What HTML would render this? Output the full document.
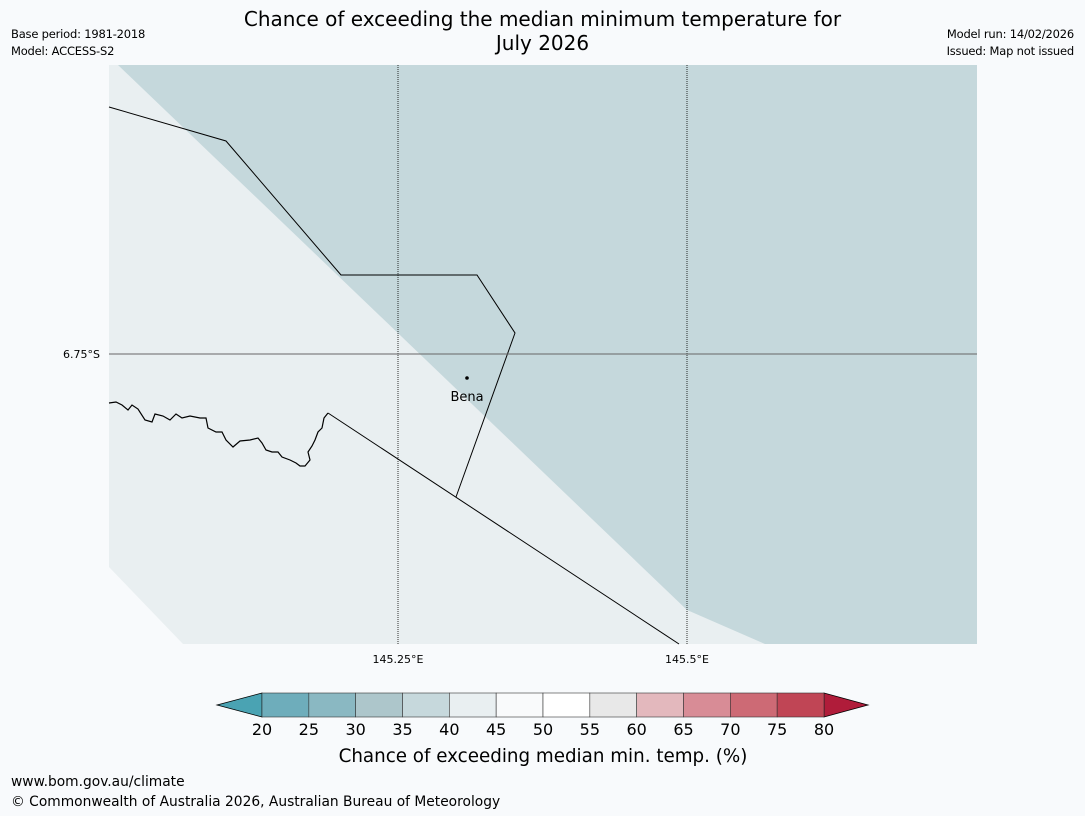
<!DOCTYPE html>
<html><head><meta charset="utf-8"><style>
html,body{margin:0;padding:0;background:#f8fafc;}
body{width:1085px;height:816px;position:relative;overflow:hidden;font-family:"Liberation Sans","DejaVu Sans",sans-serif;}
.t{position:absolute;color:#000;white-space:nowrap;}
</style></head><body>
<div class="t" style="left:0;width:1085px;top:7px;text-align:center;font-size:20px;line-height:24px;font-family:'DejaVu Sans',sans-serif;">Chance of exceeding the median minimum temperature for<br>July 2026</div>
<div class="t" style="left:11px;top:26px;font-size:11.5px;line-height:17px;font-family:'DejaVu Sans',sans-serif;letter-spacing:-0.2px;">Base period: 1981-2018<br>Model: ACCESS-S2</div>
<div class="t" style="right:11px;top:26px;font-size:11.5px;line-height:17px;text-align:right;font-family:'DejaVu Sans',sans-serif;letter-spacing:-0.2px;">Model run: 14/02/2026<br>Issued: Map not issued</div>
<svg width="1085" height="816" style="position:absolute;left:0;top:0">
<g>
<rect x="109" y="65" width="868" height="579" fill="#e9eff1"/>
<polygon points="109,567 183,644 109,644" fill="#f8fafc"/>
<polygon points="118,65 977,65 977,644 765,644 687,610" fill="#c5d8dc"/>
<path d="M109,403 L116,402 L122,405 L128,410 L132,405 L138,409 L145,420 L152,422 L155,414 L163,416 L170,420 L176,414 L182,418 L190,416 L200,418 L206,418 L208,428 L216,432 L222,432 L226,440 L233,447 L240,441 L250,440 L258,438 L262,443 L266,450 L272,452 L278,452 L282,457 L290,460 L296,463 L300,466 L305,466 L310,460 L308,452 L312,446 L315,440 L318,432 L322,428 L324,418 L328,413" fill="none" stroke="#000" stroke-width="1.2"/>
<polyline points="109,107 226,141 341,275 477,275 515,333 456,497" fill="none" stroke="#000" stroke-width="1"/>
<polyline points="328,413 679,644" fill="none" stroke="#000" stroke-width="1"/>
<line x1="398" y1="65" x2="398" y2="644" stroke="#000" stroke-width="0.8" stroke-dasharray="1,1"/>
<line x1="687" y1="65" x2="687" y2="644" stroke="#000" stroke-width="0.8" stroke-dasharray="1,1"/>
<line x1="109" y1="354" x2="977" y2="354" stroke="#666" stroke-width="1"/>
<circle cx="467" cy="378" r="1.8" fill="#000"/>
</g>
<text x="467" y="401" font-size="13" text-anchor="middle" font-family="DejaVu Sans,sans-serif">Bena</text>
<text x="100" y="358" font-size="11" text-anchor="end" font-family="DejaVu Sans,sans-serif">6.75°S</text>
<text x="398" y="663" font-size="11" text-anchor="middle" font-family="DejaVu Sans,sans-serif">145.25°E</text>
<text x="687" y="663" font-size="11" text-anchor="middle" font-family="DejaVu Sans,sans-serif">145.5°E</text>
<g id="cbar"></g>
<text x="543" y="762" font-size="18.3" text-anchor="middle" font-family="DejaVu Sans,sans-serif">Chance of exceeding median min. temp. (%)</text>
</svg>
<div class="t" style="left:11px;top:774px;font-size:13.8px;font-family:'DejaVu Sans',sans-serif;">www.bom.gov.au/climate</div>
<div class="t" style="left:11px;top:794px;font-size:13.8px;font-family:'DejaVu Sans',sans-serif;">© Commonwealth of Australia 2026, Australian Bureau of Meteorology</div>
<script>
const levels=[20,25,30,35,40,45,50,55,60,65,70,75,80];
const colors=["#6eadbb","#8ab8c2","#adc6cb","#c6d8dc","#e9eff1","#f9fafb","#ffffff","#e8e8e8","#e3b8bd","#d88c96","#cd6a75","#c04555"];
const extLow="#4aa3b3", extHigh="#b01c3a";
const g=document.getElementById('cbar');
const ns="http://www.w3.org/2000/svg";
const x0=262,x1=824,y0=693,y1=717;
const sx=v=>x0+(v-levels[0])/(levels[levels.length-1]-levels[0])*(x1-x0);
function mk(t,a){const e=document.createElementNS(ns,t);for(const k in a)e.setAttribute(k,a[k]);g.appendChild(e);return e;}
const lo=mk('polygon',{points:`${x0},${y0} ${x0},${y1} 217,705`,fill:extLow,stroke:'#000','stroke-width':0.8});


const hi=mk('polygon',{points:`${x1},${y0} ${x1},${y1} 868,705`,fill:extHigh,stroke:'#000','stroke-width':0.8});


for(let i=0;i<colors.length;i++){
 const r=mk('rect',{x:sx(levels[i]),y:y0,width:sx(levels[i+1])-sx(levels[i]),height:y1-y0,fill:colors[i],stroke:'#333','stroke-width':0.6});
 
 
}
for(const v of levels){
 const t=mk('text',{x:sx(v),y:735,'font-size':16,'text-anchor':'middle','font-family':'DejaVu Sans,sans-serif'});
 t.textContent=v;
 
 
}
</script>
</body></html>
